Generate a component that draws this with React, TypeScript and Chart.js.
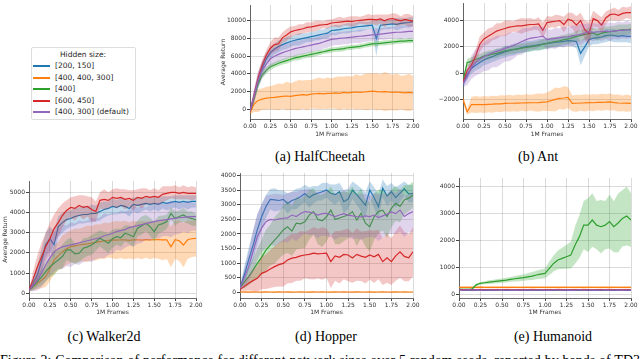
import React, { useEffect, useRef } from "react";
import { Chart, registerables } from "chart.js";
Chart.register(...registerables);

// ---------- shared ----------
const FRAMES = [0, 0.05, 0.1, 0.15, 0.2, 0.25, 0.3, 0.35, 0.4, 0.45, 0.5, 0.55, 0.6, 0.65, 0.7, 0.75, 0.8, 0.85, 0.9, 0.95, 1.0,
  1.05, 1.1, 1.15, 1.2, 1.25, 1.3, 1.35, 1.4, 1.45, 1.5, 1.55, 1.6, 1.65, 1.7, 1.75, 1.8, 1.85, 1.9, 1.95, 2.0];
const X_TICKS = [0, 0.25, 0.5, 0.75, 1.0, 1.25, 1.5, 1.75, 2.0];
const LEGEND_TITLE = "Hidden size:";
const LEGEND_LABELS = ["[200, 150]", "[400, 400, 300]", "[400]", "[600, 450]", "[400, 300] (default)"];
const COLORS = ["#1f77b4", "#ff7f0e", "#2ca02c", "#d62728", "#9467bd"];
const BANDS = ["rgba(31,119,180,0.28)", "rgba(255,127,14,0.3)", "rgba(44,160,44,0.28)", "rgba(214,39,40,0.26)", "rgba(148,103,189,0.28)"];
const X_TITLE = "1M Frames";
const Y_TITLE = "Average Return";
const CAPTIONS = ["(a) HalfCheetah", "(b) Ant", "(c) Walker2d", "(d) Hopper", "(e) Humanoid"];
const FIG_CAPTION = "Figure 2: Comparison of performance for different network sizes over 5 random seeds, reported by bands of TD3";

// ---------- (a) HalfCheetah ----------
const HC_TICKS = [0, 2000, 4000, 6000, 8000, 10000];
const HC_BLUE = [-200, 1400, 3200, 4600, 5700, 6400, 6800, 7100, 7300, 7500, 7650, 7800, 7900, 8000, 8100, 8200, 8300, 8400, 8500, 8600, 8900, 8950, 9000, 9100, 9150, 9200, 9300, 9350, 9400, 9450, 9500, 8000, 9500, 9550, 9600, 9650, 9600, 9700, 9750, 9800, 9900];
const HC_BLUE_SD = [200, 700, 800, 800, 700, 700, 600, 700, 600, 700, 600, 600, 700, 600, 500, 600, 500, 600, 500, 600, 500, 600, 500, 500, 600, 500, 500, 600, 500, 400, 500, 2000, 600, 500, 600, 500, 700, 600, 500, 600, 500];
const HC_ORANGE = [-400, 600, 1000, 1150, 1250, 1300, 1350, 1400, 1450, 1500, 1450, 1550, 1600, 1650, 1600, 1700, 1750, 1800, 1750, 1800, 1800, 1850, 1800, 1900, 1850, 1900, 1950, 1900, 1950, 2000, 2050, 2000, 1950, 2000, 1950, 1900, 1950, 1900, 1850, 1900, 1850];
const HC_ORANGE_SD = [200, 900, 1300, 1200, 1300, 1300, 1400, 1500, 1400, 1600, 1500, 1600, 1700, 1600, 1700, 1600, 1700, 1800, 1700, 1800, 1700, 1800, 1900, 1800, 1900, 1800, 2000, 1900, 2000, 2100, 2000, 2100, 2000, 2200, 2100, 2000, 2100, 1900, 2000, 2100, 1900];
const HC_GREEN = [-300, 1300, 2900, 3900, 4400, 4800, 5000, 5200, 5350, 5500, 5650, 5800, 5900, 6000, 6100, 6200, 6300, 6400, 6500, 6600, 6700, 6750, 6800, 6850, 6950, 7000, 7050, 7100, 7200, 7300, 7380, 7400, 7450, 7500, 7550, 7600, 7650, 7700, 7700, 7750, 7750];
const HC_GREEN_SD = [200, 500, 500, 400, 400, 350, 300, 350, 300, 350, 300, 300, 350, 300, 300, 350, 300, 300, 250, 300, 300, 250, 300, 300, 250, 300, 250, 300, 250, 300, 250, 300, 250, 300, 250, 300, 250, 300, 250, 300, 250];
const HC_RED = [-300, 1600, 3600, 5000, 6100, 6900, 7300, 7400, 8100, 8400, 8750, 8900, 9000, 9100, 9250, 9300, 9400, 9500, 9550, 9600, 9750, 9800, 9850, 9900, 9950, 9900, 10000, 10050, 10100, 10150, 10150, 10100, 10200, 10000, 10200, 10250, 10100, 10000, 10150, 10050, 9950];
const HC_RED_SD = [200, 600, 700, 600, 600, 700, 800, 700, 600, 700, 600, 500, 600, 500, 600, 500, 600, 500, 400, 500, 400, 500, 600, 400, 500, 600, 500, 400, 500, 600, 500, 600, 500, 700, 500, 600, 700, 500, 600, 700, 600];
const HC_PURPLE = [-200, 1500, 3300, 4400, 5100, 5700, 6000, 6200, 6400, 6550, 6700, 6850, 6950, 7050, 7150, 7250, 7350, 7450, 7600, 7750, 7900, 7950, 8000, 8050, 8100, 8150, 8200, 8250, 8300, 8350, 8400, 8450, 8500, 8550, 8600, 8650, 8700, 8700, 8750, 8800, 8800];
const HC_PURPLE_SD = [200, 800, 900, 900, 900, 900, 900, 850, 900, 850, 800, 850, 800, 850, 800, 800, 750, 800, 750, 800, 750, 700, 750, 700, 750, 700, 700, 750, 700, 700, 650, 700, 650, 700, 700, 650, 700, 750, 700, 800, 750];

// ---------- (b) Ant ----------
const ANT_TICKS = [-2000, 0, 2000, 4000];
const ANT_BLUE = [-900, -100, 350, 600, 800, 990, 1150, 1250, 1400, 1500, 1630, 1700, 1780, 1850, 1950, 2010, 2050, 2100, 2150, 2200, 2270, 2300, 2350, 2380, 2420, 2470, 2450, 2400, 1500, 2000, 2550, 2650, 2700, 2750, 2850, 2900, 2850, 2800, 2850, 2800, 2800];
const ANT_BLUE_SD = [200, 400, 400, 400, 450, 400, 450, 400, 450, 400, 450, 400, 450, 400, 400, 450, 400, 400, 450, 400, 400, 350, 400, 350, 400, 350, 400, 500, 900, 700, 500, 450, 500, 450, 500, 450, 500, 450, 500, 450, 500];
const ANT_ORANGE = [-2000, -2950, -2400, -2400, -2400, -2400, -2380, -2370, -2350, -2340, -2310, -2300, -2300, -2290, -2280, -2270, -2260, -2260, -2250, -2220, -2190, -2100, -2000, -1930, -1900, -1860, -2310, -2300, -2280, -2270, -2250, -2260, -2240, -2230, -2220, -2200, -2250, -2280, -2300, -2290, -2310];
const ANT_ORANGE_SD = [300, 200, 600, 650, 600, 650, 600, 650, 600, 650, 600, 650, 600, 650, 600, 650, 600, 650, 700, 650, 700, 800, 900, 800, 900, 800, 600, 650, 600, 650, 600, 650, 600, 650, 600, 650, 600, 650, 600, 650, 600];
const ANT_GREEN = [-600, 800, 900, 1050, 1150, 1300, 1350, 1450, 1500, 1600, 1700, 1750, 1800, 1850, 1900, 1950, 2000, 2050, 2100, 2200, 2250, 2350, 2400, 2450, 2550, 2600, 2700, 2800, 2850, 2950, 3000, 3050, 2900, 3050, 3100, 3150, 3200, 3250, 3300, 3300, 3350];
const ANT_GREEN_SD = [200, 300, 300, 300, 300, 300, 350, 300, 350, 300, 350, 300, 350, 300, 350, 300, 350, 300, 350, 400, 350, 400, 350, 400, 350, 400, 350, 400, 450, 400, 450, 400, 450, 400, 450, 400, 400, 450, 400, 400, 400];
const ANT_RED = [-700, 200, 600, 1300, 2200, 2600, 2800, 3000, 3200, 3300, 3400, 3500, 3550, 3600, 3600, 3650, 3700, 3700, 3750, 3250, 3850, 3900, 3950, 4000, 3700, 4100, 4000, 3650, 4000, 3300, 3000, 4150, 4000, 3650, 4200, 4450, 4500, 4400, 4550, 4600, 4600];
const ANT_RED_SD = [200, 300, 400, 500, 600, 500, 600, 500, 600, 500, 600, 500, 400, 500, 600, 500, 500, 400, 500, 600, 500, 400, 500, 400, 600, 500, 600, 700, 600, 700, 900, 600, 500, 600, 500, 400, 500, 400, 500, 400, 500];
const ANT_PURPLE = [-800, -300, 450, 800, 1050, 1250, 1400, 1550, 1650, 1750, 1880, 2000, 2100, 2250, 2400, 2550, 2650, 2700, 2750, 2820, 2550, 2600, 2650, 2700, 2750, 2770, 2850, 2900, 2950, 3050, 3150, 3100, 3150, 3150, 3200, 3150, 3200, 3250, 3250, 3300, 3280];
const ANT_PURPLE_SD = [300, 600, 900, 1000, 1100, 1100, 1200, 1100, 1200, 1100, 1000, 1100, 1000, 900, 1000, 900, 800, 900, 800, 700, 800, 700, 800, 700, 800, 700, 800, 700, 800, 700, 600, 700, 600, 700, 600, 700, 600, 700, 600, 700, 600];

// ---------- (c) Walker2d ----------
const W_TICKS = [0, 1000, 2000, 3000, 4000, 5000];
const W_BLUE = [150, 500, 900, 1600, 2400, 2700, 2400, 3300, 3500, 3650, 3700, 3800, 3850, 3900, 3900, 3950, 3950, 4050, 4150, 4200, 4300, 4250, 4350, 4300, 4200, 4400, 4350, 4400, 4450, 4400, 4450, 4400, 4500, 4450, 4500, 4550, 4500, 4550, 4500, 4550, 4550];
const W_BLUE_SD = [50, 300, 500, 600, 600, 600, 700, 500, 500, 450, 400, 450, 400, 450, 400, 450, 400, 450, 400, 350, 400, 350, 400, 350, 400, 350, 400, 350, 300, 350, 300, 350, 300, 350, 300, 300, 350, 300, 350, 300, 300];
const W_ORANGE = [150, 350, 500, 650, 830, 1200, 1650, 1850, 2060, 2200, 2310, 2350, 2390, 2420, 2450, 2480, 2520, 2560, 2600, 2620, 2640, 2630, 2650, 2640, 2620, 2640, 2650, 2630, 2660, 2640, 2650, 2660, 2640, 2650, 2300, 2650, 2600, 2390, 2650, 2700, 2720];
const W_ORANGE_SD = [50, 200, 300, 400, 500, 600, 700, 700, 800, 800, 800, 850, 800, 850, 900, 850, 900, 850, 900, 850, 900, 950, 900, 950, 900, 950, 900, 950, 900, 950, 900, 950, 1000, 950, 1000, 950, 1000, 1100, 950, 900, 900];
const W_GREEN = [150, 350, 580, 800, 1070, 1300, 1490, 1650, 1820, 2150, 2150, 1950, 1980, 2230, 2300, 2390, 2550, 2720, 2600, 2480, 2700, 2800, 2750, 2970, 2900, 2800, 3220, 3350, 3470, 3300, 3050, 3380, 3450, 3550, 3950, 3710, 3800, 3880, 3750, 3700, 3630];
const W_GREEN_SD = [50, 200, 300, 400, 500, 500, 600, 500, 600, 500, 600, 500, 450, 500, 450, 500, 450, 400, 450, 500, 450, 400, 450, 400, 450, 500, 400, 450, 400, 450, 500, 450, 400, 350, 300, 350, 300, 350, 300, 350, 300];
const W_RED = [150, 700, 1300, 1800, 2300, 2700, 3200, 3500, 3850, 4100, 4250, 4200, 4350, 4250, 4300, 4150, 4050, 4600, 4650, 4600, 4750, 4700, 4750, 4650, 4700, 4600, 4750, 4700, 4800, 4750, 4800, 4750, 4900, 4950, 5000, 5000, 4950, 5000, 4950, 4950, 4950];
const W_RED_SD = [50, 400, 600, 700, 700, 800, 700, 700, 600, 500, 500, 600, 500, 600, 500, 600, 500, 400, 500, 400, 400, 500, 400, 500, 400, 500, 400, 500, 400, 350, 400, 350, 400, 350, 300, 350, 300, 350, 300, 350, 300];
const W_PURPLE = [150, 400, 650, 1000, 1400, 1750, 2050, 2200, 2300, 2350, 2400, 2450, 2500, 2550, 2600, 2650, 2700, 2750, 2850, 2900, 2970, 3050, 3100, 3150, 3250, 3300, 3350, 3400, 3450, 3500, 3550, 3600, 3620, 3650, 3680, 3710, 3740, 3760, 3780, 3800, 3800];
const W_PURPLE_SD = [50, 300, 500, 700, 800, 900, 1000, 1000, 1100, 1000, 1100, 1000, 1100, 1000, 1000, 1100, 1000, 1000, 1100, 1000, 1000, 900, 1000, 900, 900, 1000, 900, 900, 800, 900, 800, 900, 800, 800, 900, 800, 800, 700, 800, 700, 700];

// ---------- (d) Hopper ----------
const H_TICKS = [0, 500, 1000, 1500, 2000, 2500, 3000, 3500, 4000];
const H_BLUE = [150, 600, 1110, 1600, 2140, 2590, 2940, 3190, 3170, 3150, 3190, 3050, 3150, 3200, 3280, 3390, 3250, 3350, 3400, 3450, 3510, 3400, 3350, 3450, 3110, 3200, 3500, 3350, 3170, 2990, 3510, 3250, 2940, 3570, 3300, 3450, 3250, 3400, 3550, 3380, 3390];
const H_BLUE_SD = [50, 300, 400, 500, 500, 450, 400, 350, 400, 350, 300, 350, 300, 350, 300, 300, 350, 300, 250, 300, 250, 300, 350, 300, 400, 350, 300, 350, 400, 450, 300, 350, 450, 300, 350, 300, 350, 300, 250, 300, 300];
const H_ORANGE = [10, 12, 9, 11, 10, 8, 12, 10, 9, 11, 10, 12, 9, 10, 11, 10, 9, 12, 10, 11, 10, 9, 11, 10, 12, 10, 9, 11, 10, 10, 12, 9, 10, 11, 10, 9, 12, 10, 11, 10, 10];
const H_ORANGE_SD = [5, 8, 6, 7, 8, 6, 7, 8, 6, 7, 8, 6, 7, 8, 6, 7, 8, 6, 7, 8, 6, 7, 8, 6, 7, 8, 6, 7, 8, 6, 7, 8, 6, 7, 8, 6, 7, 8, 6, 7, 8];
const H_GREEN = [150, 350, 540, 760, 990, 1200, 1450, 1620, 1790, 1950, 2140, 2250, 2100, 2370, 2350, 2420, 2650, 2770, 2500, 2450, 2590, 2820, 2500, 2550, 2600, 2650, 2770, 2480, 2710, 2370, 2250, 2590, 2770, 2820, 2600, 2880, 3050, 2950, 3170, 3230, 3340];
const H_GREEN_SD = [50, 200, 300, 400, 500, 600, 700, 700, 800, 800, 850, 900, 850, 900, 850, 900, 850, 800, 850, 900, 850, 800, 850, 900, 850, 800, 850, 900, 850, 800, 850, 800, 750, 700, 750, 650, 600, 550, 500, 450, 450];
const H_RED = [100, 200, 310, 400, 480, 650, 710, 800, 880, 950, 990, 1110, 1170, 1200, 1250, 1280, 1300, 1340, 1320, 1330, 1340, 1050, 1250, 1200, 1300, 1280, 1180, 1300, 1240, 1200, 1280, 1220, 1300, 1050, 1180, 1050, 1250, 1390, 1230, 1180, 1390];
const H_RED_SD = [50, 150, 250, 350, 450, 550, 600, 650, 700, 750, 800, 800, 850, 800, 850, 800, 850, 900, 850, 900, 850, 900, 850, 900, 850, 900, 850, 900, 850, 900, 850, 900, 850, 800, 850, 800, 850, 900, 850, 800, 850];
const H_PURPLE = [150, 500, 880, 1400, 1910, 2200, 2420, 2500, 2480, 2520, 2540, 2550, 2650, 2600, 2700, 2770, 2750, 2720, 2650, 2700, 2710, 2650, 2600, 2650, 2700, 2650, 2620, 2600, 2590, 2620, 2600, 2650, 2560, 2620, 2680, 2760, 2700, 2820, 2600, 2700, 2770];
const H_PURPLE_SD = [50, 300, 500, 700, 800, 800, 900, 850, 900, 850, 800, 850, 800, 850, 800, 750, 800, 750, 800, 750, 800, 750, 800, 750, 800, 750, 800, 750, 800, 750, 700, 750, 800, 750, 700, 750, 700, 750, 700, 650, 700];

// ---------- (e) Humanoid ----------
const U_TICKS = [0, 1000, 2000, 3000, 4000];
const U_BLUE = [140, 135, 140, 138, 142, 140, 137, 141, 139, 140, 142, 138, 140, 141, 139, 140, 138, 142, 140, 139, 141, 140, 138, 140, 142, 139, 140, 141, 138, 140, 139, 141, 140, 138, 142, 140, 139, 141, 140, 138, 140];
const U_BLUE_SD = [20, 25, 20, 25, 20, 25, 20, 25, 20, 25, 20, 25, 20, 25, 20, 25, 20, 25, 20, 25, 20, 25, 20, 25, 20, 25, 20, 25, 20, 25, 20, 25, 20, 25, 20, 25, 20, 25, 20, 25, 20];
const U_ORANGE = [250, 245, 252, 248, 250, 253, 247, 250, 251, 249, 252, 248, 250, 251, 249, 250, 252, 248, 250, 251, 249, 250, 252, 248, 250, 251, 249, 250, 252, 248, 250, 251, 249, 250, 252, 248, 250, 251, 249, 250, 250];
const U_ORANGE_SD = [30, 40, 35, 40, 35, 40, 35, 40, 35, 40, 35, 40, 35, 40, 35, 40, 35, 40, 35, 40, 35, 40, 35, 40, 35, 40, 35, 40, 35, 40, 35, 40, 35, 40, 35, 40, 35, 40, 35, 40, 35];
const U_GREEN = [180, 170, 175, 185, 340, 400, 420, 440, 460, 480, 500, 520, 545, 570, 590, 610, 640, 670, 710, 740, 770, 960, 1140, 1270, 1330, 1390, 1450, 1830, 2140, 2570, 2570, 2760, 2570, 2510, 2570, 2700, 2510, 2650, 2820, 2910, 2760];
const U_GREEN_SD = [20, 30, 30, 40, 50, 50, 60, 70, 70, 80, 80, 90, 90, 100, 110, 120, 130, 150, 160, 170, 180, 250, 300, 350, 400, 450, 500, 700, 800, 900, 1000, 1000, 900, 1000, 900, 1000, 950, 1100, 1050, 1100, 1000];
const U_RED = [165, 160, 166, 164, 165, 167, 163, 165, 166, 164, 165, 167, 163, 165, 166, 164, 165, 167, 163, 165, 166, 164, 165, 167, 163, 165, 166, 164, 165, 167, 163, 165, 166, 164, 165, 167, 163, 165, 166, 164, 165];
const U_RED_SD = [20, 25, 20, 25, 20, 25, 20, 25, 20, 25, 20, 25, 20, 25, 20, 25, 20, 25, 20, 25, 20, 25, 20, 25, 20, 25, 20, 25, 20, 25, 20, 25, 20, 25, 20, 25, 20, 25, 20, 25, 20];
const U_PURPLE = [150, 148, 152, 150, 151, 149, 150, 152, 148, 150, 151, 149, 150, 152, 148, 150, 151, 149, 150, 152, 148, 150, 151, 149, 150, 152, 148, 150, 151, 149, 150, 152, 148, 150, 151, 149, 150, 152, 148, 150, 150];
const U_PURPLE_SD = [20, 25, 20, 25, 20, 25, 20, 25, 20, 25, 20, 25, 20, 25, 20, 25, 20, 25, 20, 25, 20, 25, 20, 25, 20, 25, 20, 25, 20, 25, 20, 25, 20, 25, 20, 25, 20, 25, 20, 25, 20];

type Series = { mean: number[]; sd: number[] };
type PlotCfg = {
  key: string;
  left: number; top: number; w: number; h: number;
  yw: number; xh: number; padTop: number; padRight: number;
  yMin: number; yMax: number; yTicks: number[];
  yTitle: boolean; yTitlePad: number;
  series: Series[];
};

const PLOTS: PlotCfg[] = [
  { key: "hc", left: 220, top: 0, w: 205, h: 138, yw: 30, xh: 19, padTop: 5, padRight: 12, yMin: -1100, yMax: 11780, yTicks: HC_TICKS, yTitle: true, yTitlePad: 0,
    series: [{ mean: HC_BLUE, sd: HC_BLUE_SD }, { mean: HC_ORANGE, sd: HC_ORANGE_SD }, { mean: HC_GREEN, sd: HC_GREEN_SD }, { mean: HC_RED, sd: HC_RED_SD }, { mean: HC_PURPLE, sd: HC_PURPLE_SD }] },
  { key: "ant", left: 433, top: 0, w: 207, h: 138, yw: 30, xh: 19, padTop: 3, padRight: 9, yMin: -3500, yMax: 5340, yTicks: ANT_TICKS, yTitle: false, yTitlePad: 0,
    series: [{ mean: ANT_BLUE, sd: ANT_BLUE_SD }, { mean: ANT_ORANGE, sd: ANT_ORANGE_SD }, { mean: ANT_GREEN, sd: ANT_GREEN_SD }, { mean: ANT_RED, sd: ANT_RED_SD }, { mean: ANT_PURPLE, sd: ANT_PURPLE_SD }] },
  { key: "walker", left: 0, top: 173, w: 206, h: 143, yw: 29, xh: 18, padTop: 8, padRight: 10, yMin: -233, yMax: 5559, yTicks: W_TICKS, yTitle: true, yTitlePad: 2,
    series: [{ mean: W_BLUE, sd: W_BLUE_SD }, { mean: W_ORANGE, sd: W_ORANGE_SD }, { mean: W_GREEN, sd: W_GREEN_SD }, { mean: W_RED, sd: W_RED_SD }, { mean: W_PURPLE, sd: W_PURPLE_SD }] },
  { key: "hopper", left: 210, top: 165, w: 213, h: 151, yw: 30, xh: 18, padTop: 8, padRight: 10, yMin: -196, yMax: 4093, yTicks: H_TICKS, yTitle: false, yTitlePad: 0,
    series: [{ mean: H_BLUE, sd: H_BLUE_SD }, { mean: H_ORANGE, sd: H_ORANGE_SD }, { mean: H_GREEN, sd: H_GREEN_SD }, { mean: H_RED, sd: H_RED_SD }, { mean: H_PURPLE, sd: H_PURPLE_SD }] },
  { key: "humanoid", left: 429, top: 170, w: 211, h: 146, yw: 30, xh: 18, padTop: 8, padRight: 9, yMin: -149, yMax: 4328, yTicks: U_TICKS, yTitle: false, yTitlePad: 0,
    series: [{ mean: U_BLUE, sd: U_BLUE_SD }, { mean: U_ORANGE, sd: U_ORANGE_SD }, { mean: U_GREEN, sd: U_GREEN_SD }, { mean: U_RED, sd: U_RED_SD }, { mean: U_PURPLE, sd: U_PURPLE_SD }] },
];

const TICK_FONT = { family: "'DejaVu Sans', sans-serif", size: 6 };
const TEXT = "#333333";
const GRID = "rgba(0,0,0,0.14)";
const SPINE = "#444444";

function buildDatasets(series: Series[]) {
  const ds: any[] = [];
  series.forEach((s, i) => {
    ds.push({
      data: s.mean.map((m, k) => ({ x: FRAMES[k], y: m - s.sd[k] })),
      borderColor: "transparent", borderWidth: 0, pointRadius: 0, fill: false,
    });
    ds.push({
      data: s.mean.map((m, k) => ({ x: FRAMES[k], y: m + s.sd[k] })),
      borderColor: "transparent", borderWidth: 0, pointRadius: 0, backgroundColor: BANDS[i], fill: "-1",
    });
    ds.push({
      data: s.mean.map((m, k) => ({ x: FRAMES[k], y: m })),
      borderColor: COLORS[i], borderWidth: 1.2, pointRadius: 0, fill: false,
    });
  });
  const n = ds.length;
  ds.forEach((d, j) => { d.order = n - j; d.tension = 0; });
  return ds;
}

function Plot({ cfg }: { cfg: PlotCfg }) {
  const ref = useRef<HTMLCanvasElement>(null);
  useEffect(() => {
    const chart = new Chart(ref.current as HTMLCanvasElement, {
      type: "line",
      data: { datasets: buildDatasets(cfg.series) },
      options: {
        animation: false,
        responsive: false,
        maintainAspectRatio: false,
        devicePixelRatio: 1,
        layout: { padding: { top: cfg.padTop, right: cfg.padRight, left: 0, bottom: 0 } },
        plugins: { legend: { display: false }, tooltip: { enabled: false } },
        scales: {
          x: {
            type: "linear", min: 0, max: 2,
            afterBuildTicks: (s: any) => { s.ticks = X_TICKS.map((v) => ({ value: v })); },
            afterFit: (s: any) => { s.height = cfg.xh; s.paddingLeft = 0; s.paddingRight = 0; },
            ticks: { font: TICK_FONT, color: TEXT, padding: 1, maxRotation: 0, autoSkip: false, callback: (v: any) => Number(v).toFixed(2) },
            grid: { color: GRID, tickColor: SPINE, tickLength: 3, lineWidth: 1 },
            border: { color: SPINE, width: 0.8 },
            title: { display: true, text: X_TITLE, font: TICK_FONT, color: TEXT, padding: 0 },
          },
          y: {
            type: "linear", min: cfg.yMin, max: cfg.yMax,
            afterBuildTicks: (s: any) => { s.ticks = cfg.yTicks.map((v) => ({ value: v })); },
            afterFit: (s: any) => { s.width = cfg.yw; s.paddingTop = 0; s.paddingBottom = 0; },
            ticks: { font: TICK_FONT, color: TEXT, padding: 1, autoSkip: false, callback: (v: any) => String(v).replace("-", "\u2212") },
            grid: { color: GRID, tickColor: SPINE, tickLength: 3, lineWidth: 1 },
            border: { color: SPINE, width: 0.8 },
            title: { display: cfg.yTitle, text: Y_TITLE, font: TICK_FONT, color: TEXT, padding: { top: cfg.yTitlePad, bottom: 0 } },
          },
        },
      } as any,
    });
    return () => chart.destroy();
  }, []);
  return (
    <canvas ref={ref} width={cfg.w} height={cfg.h}
      style={{ position: "absolute", left: cfg.left, top: cfg.top, width: cfg.w, height: cfg.h }} />
  );
}

const CAPTION_POS = [
  { x: 320, y: 157 }, { x: 538, y: 157 }, { x: 104, y: 337 }, { x: 326, y: 337 }, { x: 553, y: 337 },
];
const LEGEND_ROWS_Y = [65, 77, 88, 100, 111];

export default function App() {
  const serif = "'Liberation Serif', 'Times New Roman', serif";
  const sans = "'DejaVu Sans', sans-serif";
  return (
    <div style={{ position: "absolute", left: 0, top: 0, width: 640, height: 359, overflow: "hidden", background: "#fff" }}>
      {PLOTS.map((p) => <Plot key={p.key} cfg={p} />)}
      {CAPTIONS.map((c, i) => (
        <div key={c} style={{ position: "absolute", left: CAPTION_POS[i].x - 100, top: CAPTION_POS[i].y - 8, width: 200, height: 16,
          lineHeight: "16px", textAlign: "center", fontFamily: serif, fontSize: 14, color: "#000", whiteSpace: "nowrap" }}>{c}</div>
      ))}
      {/* legend */}
      <div style={{ position: "absolute", left: 31, top: 47, width: 103, height: 71, border: "1px solid #dddddd", borderRadius: 2, background: "#fff" }} />
      <div style={{ position: "absolute", left: 31, top: 50, width: 104, textAlign: "center", fontFamily: sans, fontSize: 7.5, lineHeight: "10px", color: "#262626" }}>{LEGEND_TITLE}</div>
      {LEGEND_LABELS.map((l, i) => (
        <React.Fragment key={l}>
          <div style={{ position: "absolute", left: 33, top: LEGEND_ROWS_Y[i], width: 17, height: 1.5, background: COLORS[i] }} />
          <div style={{ position: "absolute", left: 55, top: LEGEND_ROWS_Y[i] - 4.5, fontFamily: sans, fontSize: 7.5, lineHeight: "10px", color: "#262626", whiteSpace: "nowrap" }}>{l}</div>
        </React.Fragment>
      ))}
      <div style={{ position: "absolute", left: 0, top: 353, width: 640, fontFamily: serif, fontSize: 14, lineHeight: "16px", color: "#000",
        whiteSpace: "nowrap", textAlign: "justify", textAlignLast: "justify" as any }}>{FIG_CAPTION}</div>
    </div>
  );
}
